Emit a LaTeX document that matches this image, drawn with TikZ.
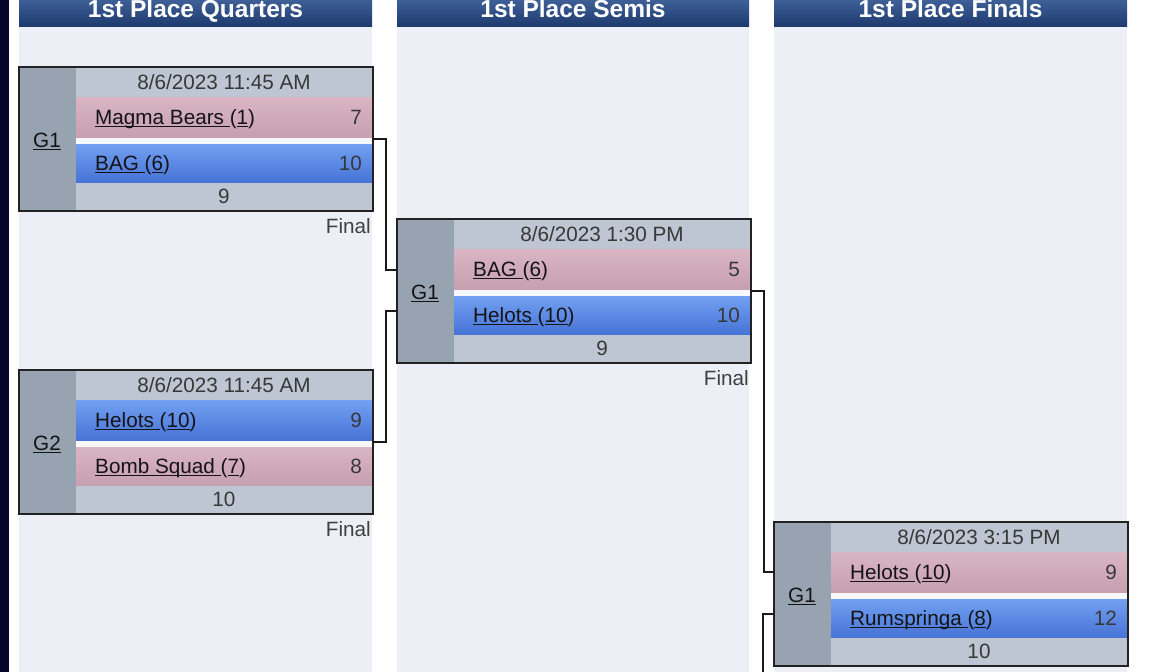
\documentclass[tikz,border=0pt]{standalone}
\usepackage{fontspec}
\setmainfont{Liberation Sans}
\usetikzlibrary{calc}
\definecolor{cstrip}{HTML}{05062B}
\definecolor{colbg}{HTML}{ECEFF6}
\definecolor{hdtop}{HTML}{3E5F97}
\definecolor{hdbot}{HTML}{1E3B6E}
\definecolor{gside}{HTML}{98A3B1}
\definecolor{growc}{HTML}{BDC6D2}
\definecolor{pinktop}{HTML}{DAB5C3}
\definecolor{pinkbot}{HTML}{C7A0AF}
\definecolor{bluetop}{HTML}{72A0F2}
\definecolor{bluebot}{HTML}{4774D6}
\definecolor{gapc}{HTML}{F7F8FB}
\definecolor{txt}{HTML}{383838}
\definecolor{framec}{HTML}{222222}
\newcommand\ulx[1]{\setbox0\hbox{#1}\rlap{\rule[-3.2pt]{\wd0}{1.5pt}}\box0}
\tikzset{
  pinkrow/.style={top color=pinktop, bottom color=pinkbot},
  bluerow/.style={top color=bluetop, bottom color=bluebot},
  hdr/.style={top color=hdtop, bottom color=hdbot},
  hdtext/.style={text=white, font=\bfseries\fontsize{24.5}{28}\selectfont, anchor=base, inner sep=0pt},
  body/.style={font=\fontsize{20.7}{24}\selectfont, inner sep=0pt},
  datetext/.style={body, text=txt, anchor=base},
  teamtext/.style={body, text=black!92, anchor=base west},
  scoretext/.style={body, text=txt, anchor=base east},
  finaltext/.style={body, text=black!75, anchor=base east},
  gtext/.style={body, text=black!92, anchor=base},
  boxframe/.style={draw=framec, line width=1.6pt},
  conn/.style={draw=black!90, line width=1.6pt},
}
% #1 name, #2 L, #3 T, #4 G label, #5 date, #6 bottom number
\newcommand\game[6]{%
  \fill[fill=gside] (#2,#3) rectangle ({#2+57},{#3+144});
  \fill[fill=growc] ({#2+57},#3) rectangle ({#2+354},{#3+144});
  \fill[fill=gapc] ({#2+57},{#3+70}) rectangle ({#2+354},{#3+77});
  \node[name=#1, minimum width=354pt, minimum height=144pt, inner sep=0pt, outer sep=0pt, anchor=north west] at (#2,#3) {};
  \node[name=#1date, datetext] at ({#2+205},{#3+22}) {#5};
  \node[name=#1bot, datetext] at ({#2+205},{#3+136}) {#6};
  \node[name=#1g, gtext] at ({#2+28},{#3+80}) {\ulx{#4}};
}
% #1 game name, #2 L, #3 T, #4 row(1/2), #5 style, #6 team, #7 score
\newcommand\teamrow[7]{%
  \ifnum#4=1 \def\rt{30}\def\rh{40}\else\def\rt{77}\def\rh{38}\fi
  \path[#5] ({#2+57},{#3+\rt}) rectangle ({#2+354},{#3+\rt+\rh});
  \node[name=#1t#4, teamtext] at ({#2+76},{#3+\rt+\rh/2+7}) {#6};
  \node[name=#1s#4, scoretext] at ({#2+343},{#3+\rt+\rh/2+7}) {#7};
}
\newcommand\gameborder[1]{\draw[boxframe] (#1.north west) rectangle (#1.south east);}
\begin{document}
\begin{tikzpicture}[x=1pt,y=-1pt]
\useasboundingbox (0,0) rectangle (1170,672);
\fill[white] (0,0) rectangle (1170,672);
\fill[fill=cstrip] (0,0) rectangle (9,672);
\foreach \l/\r/\t/\n in {19/372/1st Place Quarters/hq, 397/749/1st Place Semis/hs, 774/1127/1st Place Finals/hf}{
  \fill[fill=colbg] (\l,26) rectangle (\r,672);
  \path[hdr] (\l,0) rectangle (\r,26);
  \node[name=\n, hdtext] at ({(\l+\r)/2},17) {\t};
}
% Quarter G1
\game{q1}{19}{67}{G1}{8/6/2023 11:45 AM}{9}
\teamrow{q1}{19}{67}{1}{pinkrow}{\ulx{Magma Bears }(\ulx{1})}{7}
\teamrow{q1}{19}{67}{2}{bluerow}{\ulx{BAG }(\ulx{6})}{10}
\gameborder{q1}
\node[name=q1fin, finaltext] at (371,233) {Final};
% Quarter G2
\game{q2}{19}{370}{G2}{8/6/2023 11:45 AM}{10}
\teamrow{q2}{19}{370}{1}{bluerow}{\ulx{Helots }(\ulx{10})}{9}
\teamrow{q2}{19}{370}{2}{pinkrow}{\ulx{Bomb Squad }(\ulx{7})}{8}
\gameborder{q2}
\node[name=q2fin, finaltext] at (371,536) {Final};
% Semis G1
\game{s1}{397}{219}{G1}{8/6/2023 1:30 PM}{9}
\teamrow{s1}{397}{219}{1}{pinkrow}{\ulx{BAG }(\ulx{6})}{5}
\teamrow{s1}{397}{219}{2}{bluerow}{\ulx{Helots }(\ulx{10})}{10}
\gameborder{s1}
\node[name=s1fin, finaltext] at (749,385) {Final};
% Finals G1
\game{f1}{774}{522}{G1}{8/6/2023 3:15 PM}{10}
\teamrow{f1}{774}{522}{1}{pinkrow}{\ulx{Helots }(\ulx{10})}{9}
\teamrow{f1}{774}{522}{2}{bluerow}{\ulx{Rumspringa }(\ulx{8})}{12}
\gameborder{f1}
% connectors
\coordinate (fend) at (763,690);
\draw[conn] (q1.east) -- ++(13,0) |- ([yshift=21pt]s1.west);
\draw[conn] (q2.east) -- ++(13,0) |- ([yshift=-20pt]s1.west);
\draw[conn] (s1.east) -- ++(13,0) |- ([yshift=22pt]f1.west);
\draw[conn] ([yshift=-20pt]f1.west) -| (fend);
\end{tikzpicture}
\end{document}
